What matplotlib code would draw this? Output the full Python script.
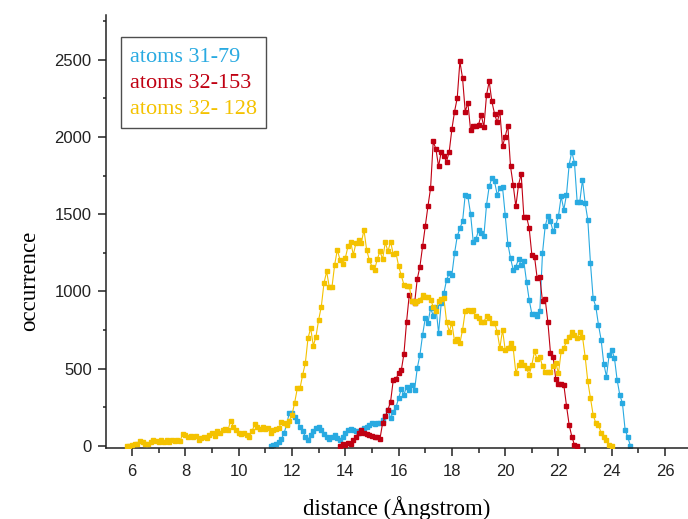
import numpy as np
import matplotlib
matplotlib.use("Agg")
import matplotlib.pyplot as plt
from matplotlib.ticker import MultipleLocator

# ---------------- data ----------------
step = 0.1

# atoms 31-79 (blue), starts at 11.2 Å
blue_start = 11.2
blue_vals = [
    0, 4, 10, 25, 45, 80, 140, 215, 210, 185,
    160, 125, 95, 60, 40, 70, 95, 115, 120, 100,
    75, 55, 45, 60, 70, 50, 40, 60, 85, 105,
    112, 100, 95, 85, 100, 115, 125, 136, 145, 140,
    150, 145, 168, 190, 233, 179, 222, 250, 309, 367,
    330, 384, 362, 395, 362, 503, 589, 718, 826, 794,
    892, 842, 902, 730, 924, 989, 1075, 1118, 1108, 1248,
    1356, 1410, 1453, 1626, 1615, 1503, 1323, 1339, 1395, 1378,
    1360, 1561, 1680, 1734, 1712, 1626, 1669, 1675, 1496, 1308,
    1216, 1140, 1161, 1209, 1172, 1194, 1064, 946, 855, 855,
    838, 876, 1248, 1421, 1490, 1453, 1388, 1431, 1490, 1615,
    1529, 1626, 1820, 1906, 1831, 1582, 1582, 1723, 1572, 1464,
    1183, 956, 902, 784, 687, 531, 449, 589, 622, 568,
    427, 330, 276, 104, 56, 0,
]

# atoms 32-153 (red), starts at 13.8 Å
red_start = 13.8
red_vals = [
    0, 12, 8, 20, 15, 40, 60, 85, 100, 82,
    75, 68, 62, 58, 55, 45, 147, 190, 233, 287,
    427, 432, 471, 488, 596, 805, 978, 935, 924, 1080,
    1161, 1291, 1421, 1550, 1669, 1971, 1922, 1809, 1906, 1874,
    1841, 1906, 2051, 2165, 2252, 2489, 2381, 2165, 2220, 2047,
    2068, 2073, 2079, 2144, 2064, 2273, 2360, 2230, 2150, 2094,
    2165, 1939, 2003, 2073, 1809, 1690, 1550, 1690, 1760, 1485,
    1485, 1410, 1237, 1226, 1086, 1093, 935, 950, 805, 600,
    575, 430, 400, 400, 395, 260, 136, 60, 6, 0,
]

# atoms 32- 128 (yellow), starts at 5.8 Å
yellow_start = 5.8
yellow_vals = [
    0, 2, 4, 10, 15, 32, 23, 15, 10, 23,
    39, 32, 23, 39, 28, 39, 28, 39, 32, 39,
    32, 78, 71, 60, 65, 56, 65, 39, 50, 60,
    50, 71, 82, 65, 93, 82, 104, 108, 104, 164,
    125, 104, 82, 76, 86, 71, 60, 93, 142, 125,
    108, 125, 108, 114, 86, 104, 108, 114, 153, 147,
    136, 164, 201, 280, 373, 373, 460, 535, 697, 762,
    648, 708, 816, 902, 1054, 1129, 1028, 1028, 1172, 1269,
    1205, 1179, 1216, 1291, 1323, 1237, 1313, 1330, 1313, 1399,
    1269, 1205, 1161, 1140, 1209, 1259, 1209, 1317, 1259, 1323,
    1240, 1250, 1165, 1105, 1043, 1032, 1036, 935, 924, 935,
    946, 978, 967, 967, 946, 902, 870, 935, 950, 956,
    805, 740, 795, 676, 691, 665, 751, 870, 881, 876,
    881, 838, 827, 805, 805, 838, 827, 795, 795, 740,
    633, 751, 622, 633, 665, 633, 471, 525, 546, 525,
    503, 460, 525, 611, 561, 578, 514, 481, 481, 475,
    518, 535, 471, 611, 633, 676, 708, 740, 719, 697,
    740, 708, 578, 417, 309, 201, 147, 136, 82, 60,
    39, 6, 0,
]

labels = ["atoms 31-79", "atoms 32-153", "atoms 32- 128"]
colors = ["#29AAE1", "#C00012", "#F4C200"]

x_ticks = [6, 8, 10, 12, 14, 16, 18, 20, 22, 24, 26]
y_ticks = [0, 500, 1000, 1500, 2000, 2500]

# ---------------- figure ----------------
fig = plt.figure(figsize=(6.88, 5.19), dpi=100)
ax = fig.add_axes([106 / 688, 1 - 448 / 519, 582 / 688, 433 / 519])

series = [
    (blue_start, blue_vals),
    (red_start, red_vals),
    (yellow_start, yellow_vals),
]
order = [2, 0, 1]
for i in order:
    start, vals = series[i]
    xs = start + step * np.arange(len(vals))
    ax.plot(xs, vals, color=colors[i], lw=0.8, marker="s", ms=2.2,
            mec=colors[i], mfc=colors[i], label=labels[i], zorder=2 + i)

ax.set_xlim(5.02, 26.86)
ax.set_ylim(-14, 2790)

ax.spines["top"].set_visible(False)
ax.spines["right"].set_visible(False)
for s in ("left", "bottom"):
    ax.spines[s].set_linewidth(1.1)
    ax.spines[s].set_color("#222222")

ax.set_xticks(x_ticks)
ax.set_yticks(y_ticks)
ax.xaxis.set_minor_locator(MultipleLocator(1))
ax.yaxis.set_minor_locator(MultipleLocator(250))
ax.tick_params(which="major", direction="out", length=5.8, width=1.1,
               color="#222222", labelsize=12, labelcolor="#222222")
ax.tick_params(axis="x", which="minor", direction="out", length=3.5,
               width=1.1, color="#222222")
ax.tick_params(axis="y", which="minor", direction="out", length=2.5,
               width=1.1, color="#222222")
for lab in ax.get_xticklabels() + ax.get_yticklabels():
    lab.set_family("Liberation Sans")
ax.tick_params(axis="x", which="major", pad=6)
ax.tick_params(axis="y", which="major", pad=4.5)

ax.set_xlabel("distance (Ångstrom)", family="Liberation Serif", fontsize=16.5)
ax.xaxis.set_label_coords(0.5, -0.139)
ax.xaxis.label.set_verticalalignment("center")
ax.set_ylabel("occurrence", family="Liberation Serif", fontsize=16.5)
ax.yaxis.set_label_coords(-0.131, 0.386)
ax.yaxis.label.set_verticalalignment("center")

# legend: order blue, red, yellow
handles, labs = ax.get_legend_handles_labels()
hmap = dict(zip(labs, handles))
leg = ax.legend([hmap[l] for l in labels], labels,
                loc="upper left", bbox_to_anchor=(0.0258, 0.949),
                borderaxespad=0, frameon=True, fancybox=False,
                edgecolor="#222222", handlelength=0, handletextpad=0,
                markerscale=0, borderpad=0.4, labelspacing=0.25,
                prop={"family": "Liberation Serif", "size": 16})
leg.get_frame().set_linewidth(1.0)
for t, c in zip(leg.get_texts(), colors):
    t.set_color(c)
for h in leg.legend_handles:
    h.set_visible(False)

fig.savefig("out.png", dpi=100)
